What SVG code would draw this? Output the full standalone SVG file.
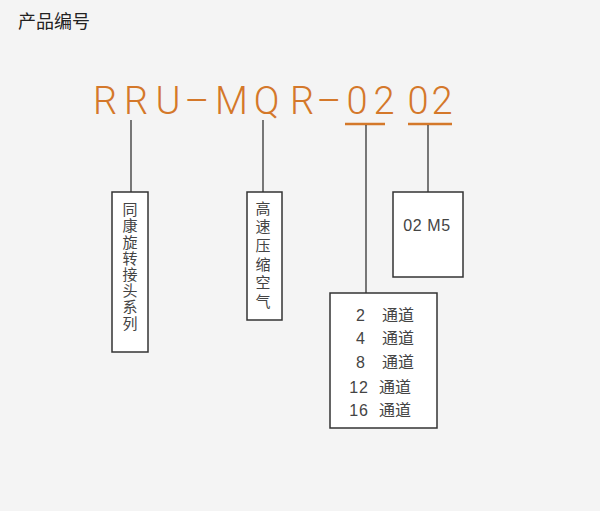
<svg xmlns="http://www.w3.org/2000/svg" width="600" height="511" viewBox="0 0 600 511">
<style>
.bg{fill:#f4f4f4}
.box{fill:#fff;stroke:#333;stroke-width:1.5}
.ln{stroke:#333;stroke-width:1.3;fill:none}
.ul{stroke:#d4782a;stroke-width:2.5}
.t{font-family:"Noto Sans CJK SC","Liberation Sans",sans-serif;fill:#444}
.v{writing-mode:vertical-rl;text-orientation:upright}
.n{font-family:"Liberation Sans",Arial,sans-serif;fill:#444}
.code{font-family:Roboto,"Liberation Sans",sans-serif;font-weight:300;fill:#d4782a;font-size:38px}
</style>
<rect class="bg" x="0" y="0" width="600" height="511"/>
<text class="t" x="18" y="28" font-size="18" style="fill:#222">产品编号</text>
<text class="code" text-anchor="middle" x="105 136 168 197 231.5 266.5 302 329 357 384 418 442" y="114">RRU–MQR–0202</text>
<g id="connectors">
<line class="ul" x1="345" y1="124" x2="385" y2="124"/>
<line class="ul" x1="408" y1="124" x2="452" y2="124"/>
<line class="ln" x1="131" y1="120" x2="131" y2="192"/>
<line class="ln" x1="263" y1="120" x2="263" y2="192"/>
<line class="ln" x1="366" y1="125" x2="366" y2="293"/>
<line class="ln" x1="428" y1="125" x2="428" y2="192"/>
</g>
<g id="node-series">
<rect class="box" x="112" y="192" width="36" height="160"/>
<text class="t v" font-size="15" x="130" y="202" letter-spacing="1.2">同康旋转接头系列</text>
</g>
<g id="node-type">
<rect class="box" x="247" y="192" width="35" height="128"/>
<text class="t v" font-size="15" x="263" y="200.5" letter-spacing="3.7">高速压缩空气</text>
</g>
<g id="node-thread">
<rect class="box" x="393" y="192" width="70" height="85"/>
<text class="n" font-size="16" x="427" y="231" text-anchor="middle" letter-spacing="0.6">02 M5</text>
</g>
<g id="node-channels">
<rect class="box" x="330" y="293" width="107" height="135"/>
<text x="365" y="321" text-anchor="end" class="n" font-size="16">2</text><text x="382" y="321" class="t" font-size="16">通道</text>
<text x="365" y="344" text-anchor="end" class="n" font-size="16">4</text><text x="382" y="344" class="t" font-size="16">通道</text>
<text x="365" y="368" text-anchor="end" class="n" font-size="16">8</text><text x="382" y="368" class="t" font-size="16">通道</text>
<text x="369" y="393" text-anchor="end" class="n" font-size="16" letter-spacing="1">12</text><text x="379" y="393" class="t" font-size="16">通道</text>
<text x="369" y="416" text-anchor="end" class="n" font-size="16" letter-spacing="1">16</text><text x="379" y="416" class="t" font-size="16">通道</text>
</g>
</svg>
